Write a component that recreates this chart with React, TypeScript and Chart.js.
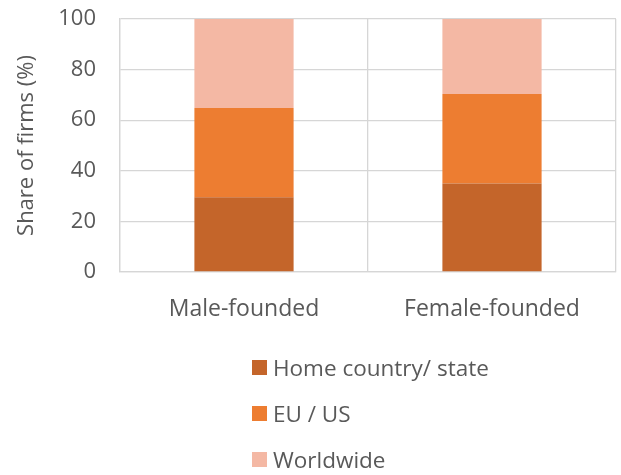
import React, { useEffect, useRef } from "react";
import { Chart, registerables } from "chart.js";

Chart.register(...registerables);

const categories = ["Male-founded", "Female-founded"];
const seriesNames = ["Home country/ state", "EU / US", "Worldwide"];
const homeCountry = [29.5, 35];
const euUs = [35.3, 35.4];
const worldwide = [35.2, 29.6];
const seriesColors = ["#C4652A", "#ED7D31", "#F4B8A4"];
const yTicks = [0, 20, 40, 60, 80, 100];

const FONT = "'Open Sans', 'Noto Sans', sans-serif";
const TEXT = "#595959";

export default function App() {
  const ref = useRef<HTMLCanvasElement | null>(null);
  useEffect(() => {
    if (!ref.current) return;
    const chart = new Chart(ref.current, {
      type: "bar",
      data: {
        labels: categories,
        datasets: [homeCountry, euUs, worldwide].map((d, i) => ({
          label: seriesNames[i],
          data: d,
          backgroundColor: seriesColors[i],
          borderWidth: 0,
          barPercentage: 0.4,
          categoryPercentage: 1,
        })),
      },
      options: {
        animation: false,
        responsive: false,
        maintainAspectRatio: false,
        layout: { padding: { top: 19, right: 5, bottom: 143, left: 0 } },
        plugins: { legend: { display: false }, tooltip: { enabled: false } },
        scales: {
          x: {
            stacked: true,
            offset: true,
            grid: { color: "#D6D6D6", lineWidth: 1.3, offset: true, drawTicks: false },
            border: { color: "#D6D6D6", width: 1.3 },
            ticks: { color: TEXT, font: { family: FONT, size: 23 }, padding: 24 },
            afterFit: (s: any) => { s.height = 60; s.paddingLeft = 0; s.paddingRight = 0; },
          },
          y: {
            stacked: true,
            min: 0,
            max: 100,
            afterBuildTicks: (s: any) => { s.ticks = yTicks.map((v) => ({ value: v })); },
            grid: { color: "#D6D6D6", lineWidth: 1.3, drawTicks: false },
            border: { color: "#D6D6D6", width: 1.3 },
            ticks: { color: TEXT, font: { family: FONT, size: 22 }, padding: 24 },
            title: {
              display: true,
              text: "Share of firms (%)",
              color: TEXT,
              font: { family: FONT, size: 22 },
              padding: { top: 14, bottom: 0 },
            },
            afterFit: (s: any) => { s.width = 120; s.paddingTop = 0; s.paddingBottom = 0; },
          },
        },
      },
    });
    return () => chart.destroy();
  }, []);

  const legendTops = [360, 406, 452];
  return (
    <div style={{ position: "fixed", left: 0, top: 0, width: 621, height: 475, background: "#fff" }}>
      <canvas ref={ref} width={621} height={475} style={{ position: "absolute", left: 0, top: 0 }} />
      {seriesNames.map((n, i) => (
        <div
          key={n}
          style={{
            position: "absolute",
            left: 252,
            top: legendTops[i] - 7,
            height: 29,
            display: "flex",
            alignItems: "center",
            fontFamily: FONT,
            fontSize: 22.5,
            color: TEXT,
            whiteSpace: "nowrap",
          }}
        >
          <span style={{ display: "inline-block", width: 15, height: 15, background: seriesColors[i], marginRight: 6 }} />
          <span>{n}</span>
        </div>
      ))}
    </div>
  );
}
